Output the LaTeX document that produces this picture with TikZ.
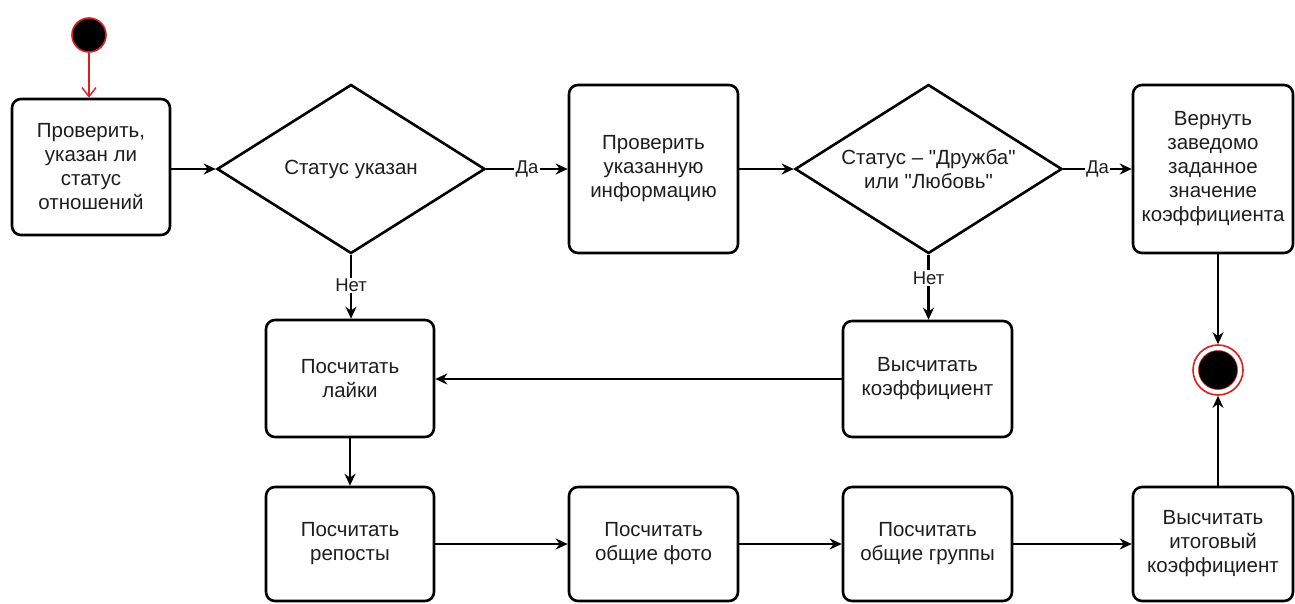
\documentclass[tikz,border=0pt]{standalone}
\usepackage{fontspec}
\setmainfont{Liberation Sans}[Ligatures=TeXOff]
\usetikzlibrary{shapes.geometric,arrows.meta,calc}
\definecolor{startred}{RGB}{220,30,30}
\definecolor{txt}{RGB}{30,30,30}
\begin{document}
\begin{tikzpicture}[x=1pt,y=-1pt,
  font=\fontsize{20.5}{24}\selectfont,
  actbox/.style={draw, line width=2.6pt, rounded corners=9pt, align=center, inner sep=0pt, text=txt},
  decision/.style={draw, diamond, aspect=1.6, line width=2.6pt, align=center, inner sep=0pt, text=txt},
  flow/.style={line width=2.2pt, -{Stealth[length=12pt,width=11pt]}},
  lbl/.style={fill=white, inner sep=1.5pt, text=txt, font=\fontsize{18.5}{20}\selectfont}]
\useasboundingbox (0,0) rectangle (1295,603);
\fill[white] (0,0) rectangle (1295,603);

\node[circle, fill=black, draw=startred, line width=1.6pt, minimum size=34pt, inner sep=0pt] (start) at (89,35) {};
\node[actbox, minimum width=158pt, minimum height=136pt] (b1) at (91,167) {Проверить,\\указан ли\\статус\\отношений};
\node[decision, minimum width=268pt, minimum height=169pt] (d1) at (351,169) {Статус указан};
\node[actbox, minimum width=169pt, minimum height=168pt] (b2) at (653.5,169) {Проверить\\указанную\\информацию};
\node[decision, minimum width=267pt, minimum height=169pt] (d2) at (928.5,169) {Статус – "Дружба"\\или "Любовь"};
\node[actbox, minimum width=160pt, minimum height=168pt] (b3) at (1213,169) {Вернуть\\заведомо\\заданное\\значение\\коэффициента};

\node[actbox, minimum width=168pt, minimum height=117pt] (b4) at (350,378.5) {Посчитать\\лайки};
\node[actbox, minimum width=169pt, minimum height=116pt] (b5) at (927.5,379) {Высчитать\\коэффициент};

\node[actbox, minimum width=168pt, minimum height=114pt] (b6) at (350,544) {Посчитать\\репосты};
\node[actbox, minimum width=169pt, minimum height=114pt] (b7) at (653.5,544) {Посчитать\\общие фото};
\node[actbox, minimum width=169pt, minimum height=114pt] (b8) at (927.5,544) {Посчитать\\общие группы};
\node[actbox, minimum width=160pt, minimum height=114pt] (b9) at (1213,544) {Высчитать\\итоговый\\коэффициент};

\node[circle, draw=startred, line width=1.6pt, fill=white, minimum size=50pt, inner sep=0pt] (end) at (1218,370) {};
\draw[black, fill=black, line width=0.6pt, draw=startred] (end.center) circle (19.5pt);

\draw[startred, line width=1.4pt, -{Straight Barb[length=9pt,width=14pt]}] (start) -- (start|-b1.north);
\draw[flow] (b1.east|-d1.west) -- (d1.west);
\draw[flow] (d1.east) -- node[lbl]{Да} (b2.west);
\draw[flow] (b2.east) -- (d2.west);
\draw[flow] (d2.east) -- node[lbl]{Да} (b3.west);
\draw[flow] (d1.south) -- node[lbl, pos=0.48]{Нет} (d1.south|-b4.north);
\draw[flow] (d2.south) -- node[lbl, pos=0.36]{Нет} (d2.south|-b5.north);
\draw[flow] (b5.west) -- (b4.east|-b5.west);
\draw[flow] (b4.south) -- (b6.north);
\draw[flow] (b6.east) -- (b7.west);
\draw[flow] (b7.east) -- (b8.west);
\draw[flow] (b8.east) -- (b9.west);
\draw[flow] (end.north|-b3.south) -- (end.north);
\draw[flow] (end.south|-b9.north) -- (end.south);
\end{tikzpicture}
\end{document}
